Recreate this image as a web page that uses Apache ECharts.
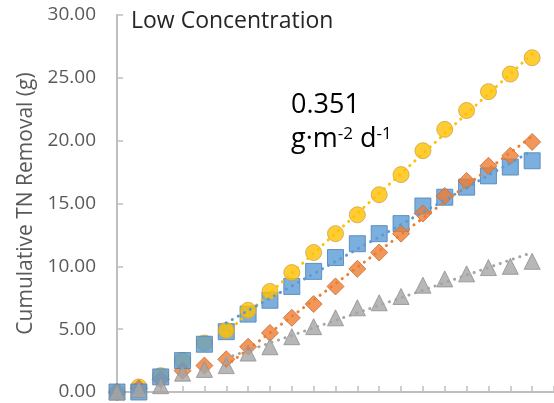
<!DOCTYPE html>
<html><head><meta charset="utf-8">
<script src="https://cdn.jsdelivr.net/npm/echarts@6/dist/echarts.min.js"></script>
<style>html,body{margin:0;padding:0;background:#fff}#c{width:554px;height:403px}</style>
</head><body><div id="c"></div>
<script>
// Day index (x) for each measurement
const days = [0,1,2,3,4,5,6,7,8,9,10,11,12,13,14,15,16,17,18,19];
// Series values (cumulative TN removal, g)
const circleVals  = [0, 0.4, 1.3, 2.5, 3.9, 4.9, 6.5, 8.0, 9.5, 11.1, 12.6, 14.1, 15.7, 17.3, 19.2, 20.9, 22.4, 23.9, 25.3, 26.6];
const squareVals  = [0, 0, 1.2, 2.5, 3.8, 4.8, 6.2, 7.3, 8.4, 9.6, 10.7, 11.8, 12.6, 13.4, 14.8, 15.5, 16.3, 17.2, 17.9, 18.4];
const diamondVals = [0, 0.3, 1.0, 1.7, 2.1, 2.6, 3.6, 4.7, 5.9, 7.0, 8.4, 9.8, 11.1, 12.6, 14.2, 15.6, 16.8, 18.0, 18.8, 19.9];
const triangleVals= [0, 0.2, 0.5, 1.5, 1.8, 2.1, 3.1, 3.6, 4.4, 5.2, 5.9, 6.7, 7.1, 7.6, 8.5, 9.0, 9.4, 9.9, 10.0, 10.4];
// Linear trendlines (start/end)
const trendX        = [5, 19];
const trendCircle   = [4.7, 26.9];
const trendSquare   = [5.5, 19.2];
const trendDiamond  = [2.1, 20.35];
const trendTriangle = [2.7, 11.1];
// Axis
const yTicks = [0, 5, 10, 15, 20, 25, 30];
const splitIdx = 5;

const C = {yellow:'#FFC000', blue:'#5B9BD5', orange:'#ED7D31', gray:'#A5A5A5'};
const pts = (vals, from, to) => days.map((d,i)=>[d, vals[i]]).filter((p,i)=> i>=from && i<to);
const trend = ys => trendX.map((x,i)=>[x, ys[i]]);

function scatter(name, vals, from, to, symbol, size, color, border, z){
  return {name, type:'scatter', data: pts(vals, from, to), symbol, symbolSize:size, z,
    itemStyle:{color, borderColor:border, borderWidth:1}, silent:true, animation:false};
}
function trendLine(ys, color){
  return {type:'line', data: trend(ys), showSymbol:false, z:10, silent:true, animation:false,
    lineStyle:{color, width:3, type:[0.1, 6.8], cap:'round'}};
}

const chart = echarts.init(document.getElementById('c'), null, {renderer:'canvas'});
chart.setOption({
  backgroundColor:'#fff',
  animation:false,
  title:{text:'Low Concentration', left:131, top:5, padding:[5,0,0,0],
    textStyle:{fontFamily:'Open Sans', fontSize:23, fontWeight:'normal', color:'#262626'}},
  grid:{left:117, top:15, bottom:11, right:-7, containLabel:false},
  xAxis:{type:'value', min:0, max:20, interval:1,
    axisLine:{show:true, lineStyle:{color:'#BFBFBF', width:2}},
    axisTick:{show:true, inside:true, length:6, lineStyle:{color:'#BFBFBF', width:1.5}},
    axisLabel:{show:false}, splitLine:{show:false}},
  yAxis:{type:'value', min:yTicks[0], max:yTicks[yTicks.length-1], interval:5,
    name:'Cumulative TN Removal (g)', nameLocation:'middle', nameGap:80,
    nameTextStyle:{fontFamily:'Open Sans', fontSize:21, color:'#595959'},
    axisLine:{show:true, lineStyle:{color:'#BFBFBF', width:2}},
    axisTick:{show:true, inside:true, length:6, lineStyle:{color:'#BFBFBF', width:1.5}},
    axisLabel:{fontFamily:'Open Sans', fontSize:19, color:'#595959', margin:21,
      formatter: v => v.toFixed(2)},
    splitLine:{show:false}},
  graphic:[
    {type:'text', left:291, top:92, style:{text:'0.351', fontFamily:'Open Sans', fontSize:27, fill:'#000'}},
    {type:'text', left:291, top:126, style:{text:'g·m{s|-2} d{s|-1}', fontFamily:'Open Sans', fontSize:27, fill:'#000',
      rich:{s:{fontFamily:'Open Sans', fontSize:17, fill:'#000', verticalAlign:'top', padding:[0,0,10,0]}}}}
  ],
  series:[
    scatter('c0', circleVals, 0, splitIdx, 'circle', 16, C.yellow, '#C9A54A', 2),
    scatter('d0', diamondVals, 0, splitIdx, 'diamond', 17, C.orange, '#C76A35', 2),
    scatter('s', squareVals, 0, days.length, 'rect', 16, C.blue, '#4A80B4', 3),
    scatter('c1', circleVals, splitIdx, days.length, 'circle', 16, C.yellow, '#C9A54A', 4),
    scatter('d1', diamondVals, splitIdx, days.length, 'diamond', 17, C.orange, '#C76A35', 4),
    scatter('t', triangleVals, 0, days.length, 'triangle', [16,16], C.gray, '#8E8E8E', 5),
    trendLine(trendCircle, C.yellow),
    trendLine(trendSquare, C.blue),
    trendLine(trendDiamond, C.orange),
    trendLine(trendTriangle, C.gray)
  ]
});
</script></body></html>
